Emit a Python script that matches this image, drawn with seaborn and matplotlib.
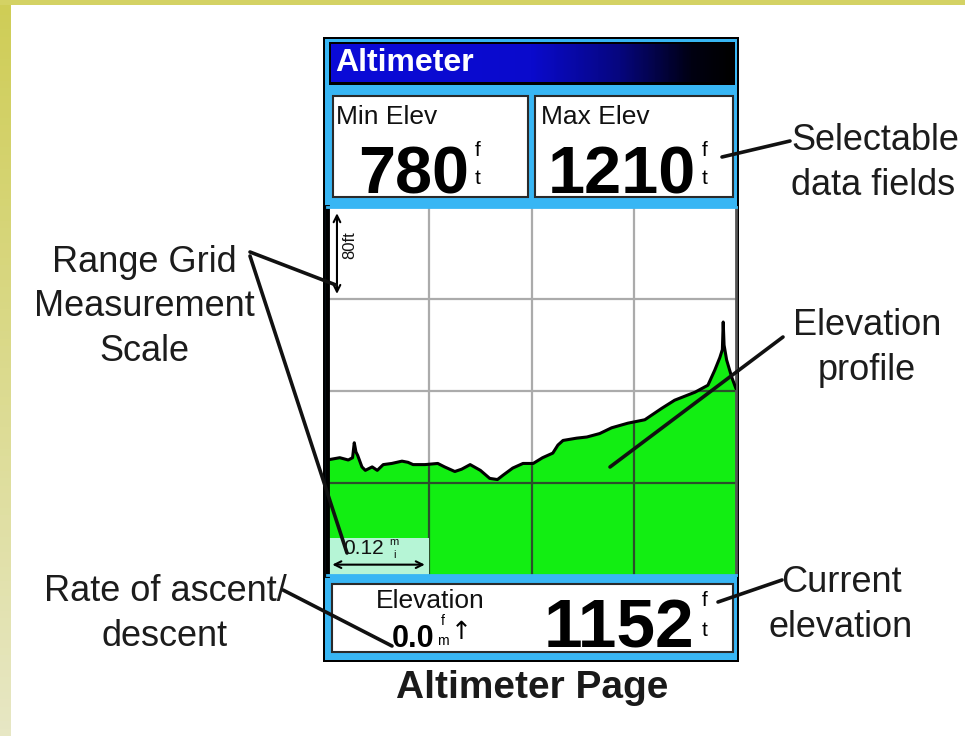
import numpy as np
import matplotlib
matplotlib.use("Agg")
import matplotlib.pyplot as plt
import seaborn as sns
from matplotlib.patches import Rectangle
from matplotlib.colors import LinearSegmentedColormap

# elevation profile (distance in miles, elevation in feet)
distance_mi = [0.000, 0.015, 0.025, 0.030, 0.032, 0.034, 0.036, 0.041, 0.045, 0.053,
               0.059, 0.066, 0.076, 0.088, 0.095, 0.101, 0.115, 0.130, 0.138, 0.150,
               0.158, 0.168, 0.180, 0.191, 0.200, 0.207, 0.218, 0.230, 0.242, 0.253,
               0.265, 0.271, 0.277, 0.293, 0.305, 0.320, 0.334, 0.353, 0.373, 0.393,
               0.408, 0.432, 0.447, 0.455, 0.461, 0.464, 0.465, 0.466, 0.469, 0.475,
               0.480]
elevation_ft = [1090, 1092, 1090, 1092, 1105, 1097, 1094, 1084, 1081, 1084,
                1081, 1086, 1087, 1089, 1088, 1086, 1086, 1087, 1084, 1080,
                1082, 1086, 1081, 1074, 1073, 1077, 1083, 1087, 1087, 1092,
                1096, 1103, 1107, 1109, 1110, 1113, 1118, 1122, 1125, 1135,
                1142, 1149, 1155, 1168, 1179, 1186, 1210, 1190, 1177, 1162,
                1152]

# data fields shown on the page
min_elev = "780"
max_elev = "1210"
current_elev = "1152"
ascent_rate = "0.0"

# range grid: one column = 0.12 mi, one row = 80 ft
grid_x_step = 0.12
grid_y_step = 80
x_range = (0.0, 0.48)
y_range = (990, 1310)

sns.set_theme(style="white")
plt.rcParams['font.family'] = ['Liberation Sans', 'DejaVu Sans']

W, H = 965, 736
fig = plt.figure(figsize=(W / 100, H / 100), dpi=100)
fig.patch.set_facecolor('white')

# background layer in pixel coordinates
bg = fig.add_axes([0, 0, 1, 1], zorder=0)
bg.set_xlim(0, W)
bg.set_ylim(H, 0)
bg.axis('off')

strip = LinearSegmentedColormap.from_list('strip', ['#cfcd56', '#e7e7c4'])
bg.imshow(np.linspace(0, 1, 100).reshape(-1, 1), cmap=strip, aspect='auto',
          extent=[0, 11, H, 0], zorder=0)
bg.add_patch(Rectangle((0, 0), W, 5, color='#d4d264', lw=0, zorder=0.5))

# device frame
bg.add_patch(Rectangle((323, 37), 416, 625, color='black', lw=0))
bg.add_patch(Rectangle((325, 39), 412, 621, color='#38b6f4', lw=0))
bg.add_patch(Rectangle((329, 42), 406, 43, color='black', lw=0))
title_cm = LinearSegmentedColormap.from_list(
    'title', [(0, '#0b0bd8'), (0.5, '#0a0acc'), (0.72, '#06067e'), (0.9, '#000012'), (1, '#000000')])
bg.imshow(np.linspace(0, 1, 200).reshape(1, -1), cmap=title_cm, aspect='auto',
          extent=[331, 733, 82, 44], zorder=1.2)
bg.add_patch(Rectangle((333, 96), 195, 101, facecolor='white', edgecolor='#2a2a2a', lw=1.5, zorder=1.3))
bg.add_patch(Rectangle((535, 96), 198, 101, facecolor='white', edgecolor='#2a2a2a', lw=1.5, zorder=1.3))
bg.add_patch(Rectangle((332, 584), 401, 68, facecolor='white', edgecolor='#2a2a2a', lw=1.5, zorder=1.3))
bg.set_xlim(0, W)
bg.set_ylim(H, 0)

bg.text(335, 63, "Altimeter", color='white', fontsize=23, fontweight='bold', va='center', ha='left')
bg.text(336, 117, "Min Elev", fontsize=19, va='center', ha='left', color='#111111')
bg.text(541, 117, "Max Elev", fontsize=19, va='center', ha='left', color='#111111')
bg.text(469, 193, min_elev, fontsize=48, fontweight='bold', ha='right', va='baseline', color='black')
bg.text(696, 193, max_elev, fontsize=48, fontweight='bold', ha='right', va='baseline', color='black')
for xu in (478, 705):
    bg.text(xu, 150, "f", fontsize=15, ha='center', va='center', color='black')
    bg.text(xu, 178, "t", fontsize=15, ha='center', va='center', color='black')

bg.text(376, 601, "Elevation", fontsize=19, va='center', ha='left', color='#111111')
bg.text(392, 647, ascent_rate, fontsize=22, fontweight='bold', ha='left', va='baseline', color='black')
bg.text(443, 621, "f", fontsize=10, ha='center', va='center', color='black')
bg.text(443, 641, "m", fontsize=10, ha='center', va='center', color='black')
bg.text(461, 632, "\u2191", fontsize=18, ha='center', va='center', color='black',
        family=['DejaVu Sans'])
bg.text(694, 648, current_elev, fontsize=50, fontweight='bold', ha='right', va='baseline', color='black')
bg.text(705, 600, "f", fontsize=15, ha='center', va='center', color='black')
bg.text(705, 630, "t", fontsize=15, ha='center', va='center', color='black')

bg.text(532, 688, "Altimeter Page", fontsize=28, fontweight='bold', ha='center', va='center',
        color='#1a1a1a')

# elevation profile plot
ax = fig.add_axes([327 / W, 1 - 575 / H, 409 / W, 368 / H], zorder=1)
ax.set_facecolor('white')
ax.set_xlim(*x_range)
ax.set_ylim(*y_range)
xgrid = [grid_x_step * k for k in (1, 2, 3)]
ygrid = [y_range[0] + grid_y_step * k for k in (1, 2, 3)]
ax.set_xticks(xgrid)
ax.set_yticks(ygrid)
ax.tick_params(labelbottom=False, labelleft=False, length=0)
ax.grid(True, color='#ababab', lw=1.6)
ax.set_axisbelow(True)

fill = ax.fill_between(distance_mi, elevation_ft, y_range[0], color='#12ee12', lw=0, zorder=1.5)
clip_path = fill.get_paths()[0]
for v in xgrid:
    ln = ax.axvline(v, color='#2b4f2b', lw=1.6, zorder=2)
    ln.set_clip_path(clip_path, fill.get_transform())
for v in ygrid:
    ln = ax.axhline(v, color='#2b4f2b', lw=1.6, zorder=2)
    ln.set_clip_path(clip_path, fill.get_transform())
sns.lineplot(x=distance_mi, y=elevation_ft, ax=ax, color='black', lw=2.2, zorder=3)

# range grid scale markers
ax.add_patch(Rectangle((x_range[0], y_range[0]), grid_x_step, 32, color='#b6f5d6', lw=0, zorder=2.5))
ax.annotate('', xy=(0.003, 999), xytext=(grid_x_step - 0.002, 999),
            arrowprops=dict(arrowstyle='<->', color='black', lw=1.5, mutation_scale=12), zorder=4)
ax.text(0.019, 1013, "0.12", fontsize=15, ha='left', va='center', color='#111111', zorder=4)
ax.text(0.079, 1019, "m", fontsize=8, ha='center', va='center', color='#111111', zorder=4)
ax.text(0.079, 1007, "i", fontsize=8, ha='center', va='center', color='#111111', zorder=4)
ax.annotate('', xy=(0.0117, y_range[1] - 3), xytext=(0.0117, y_range[1] - grid_y_step + 2),
            arrowprops=dict(arrowstyle='<->', color='black', lw=1.5, mutation_scale=12), zorder=4)
ax.text(0.027, 1277, "80ft", rotation=90, fontsize=12, ha='center', va='center', color='#111111')

for side in ('top', 'bottom'):
    ax.spines[side].set_color('#38b6f4')
    ax.spines[side].set_linewidth(2)
ax.spines['left'].set_color('black')
ax.spines['left'].set_linewidth(3.5)
ax.spines['right'].set_color('#555555')
ax.spines['right'].set_linewidth(2)

# callouts on top
fg = fig.add_axes([0, 0, 1, 1], zorder=2)
fg.set_xlim(0, W)
fg.set_ylim(H, 0)
fg.axis('off')
fg.patch.set_alpha(0)

label_kw = dict(fontsize=26, color='#1c1c1c', linespacing=1.36)
fg.text(144, 307, "Range Grid\nMeasurement\nScale", ha='center', va='center', multialignment='center', **label_kw)
fg.text(165, 614, "Rate of ascent/\ndescent", ha='center', va='center', multialignment='center', **label_kw)
fg.text(791, 163, "Selectable\ndata fields", ha='left', va='center', multialignment='left', **label_kw)
fg.text(867, 348, "Elevation\nprofile", ha='center', va='center', multialignment='center', **label_kw)
fg.text(841, 605, "Current\nelevation", ha='center', va='center', multialignment='center', **label_kw)

callouts = [((250, 252), (336, 285)),
            ((250, 256), (347, 553)),
            ((283, 590), (392, 646)),
            ((722, 157), (790, 141)),
            ((610, 467), (783, 337)),
            ((718, 602), (782, 580))]
for (x1, y1), (x2, y2) in callouts:
    fg.plot([x1, x2], [y1, y2], color='#111111', lw=2.6, solid_capstyle='round')

fig.savefig("out.png", dpi=100)
